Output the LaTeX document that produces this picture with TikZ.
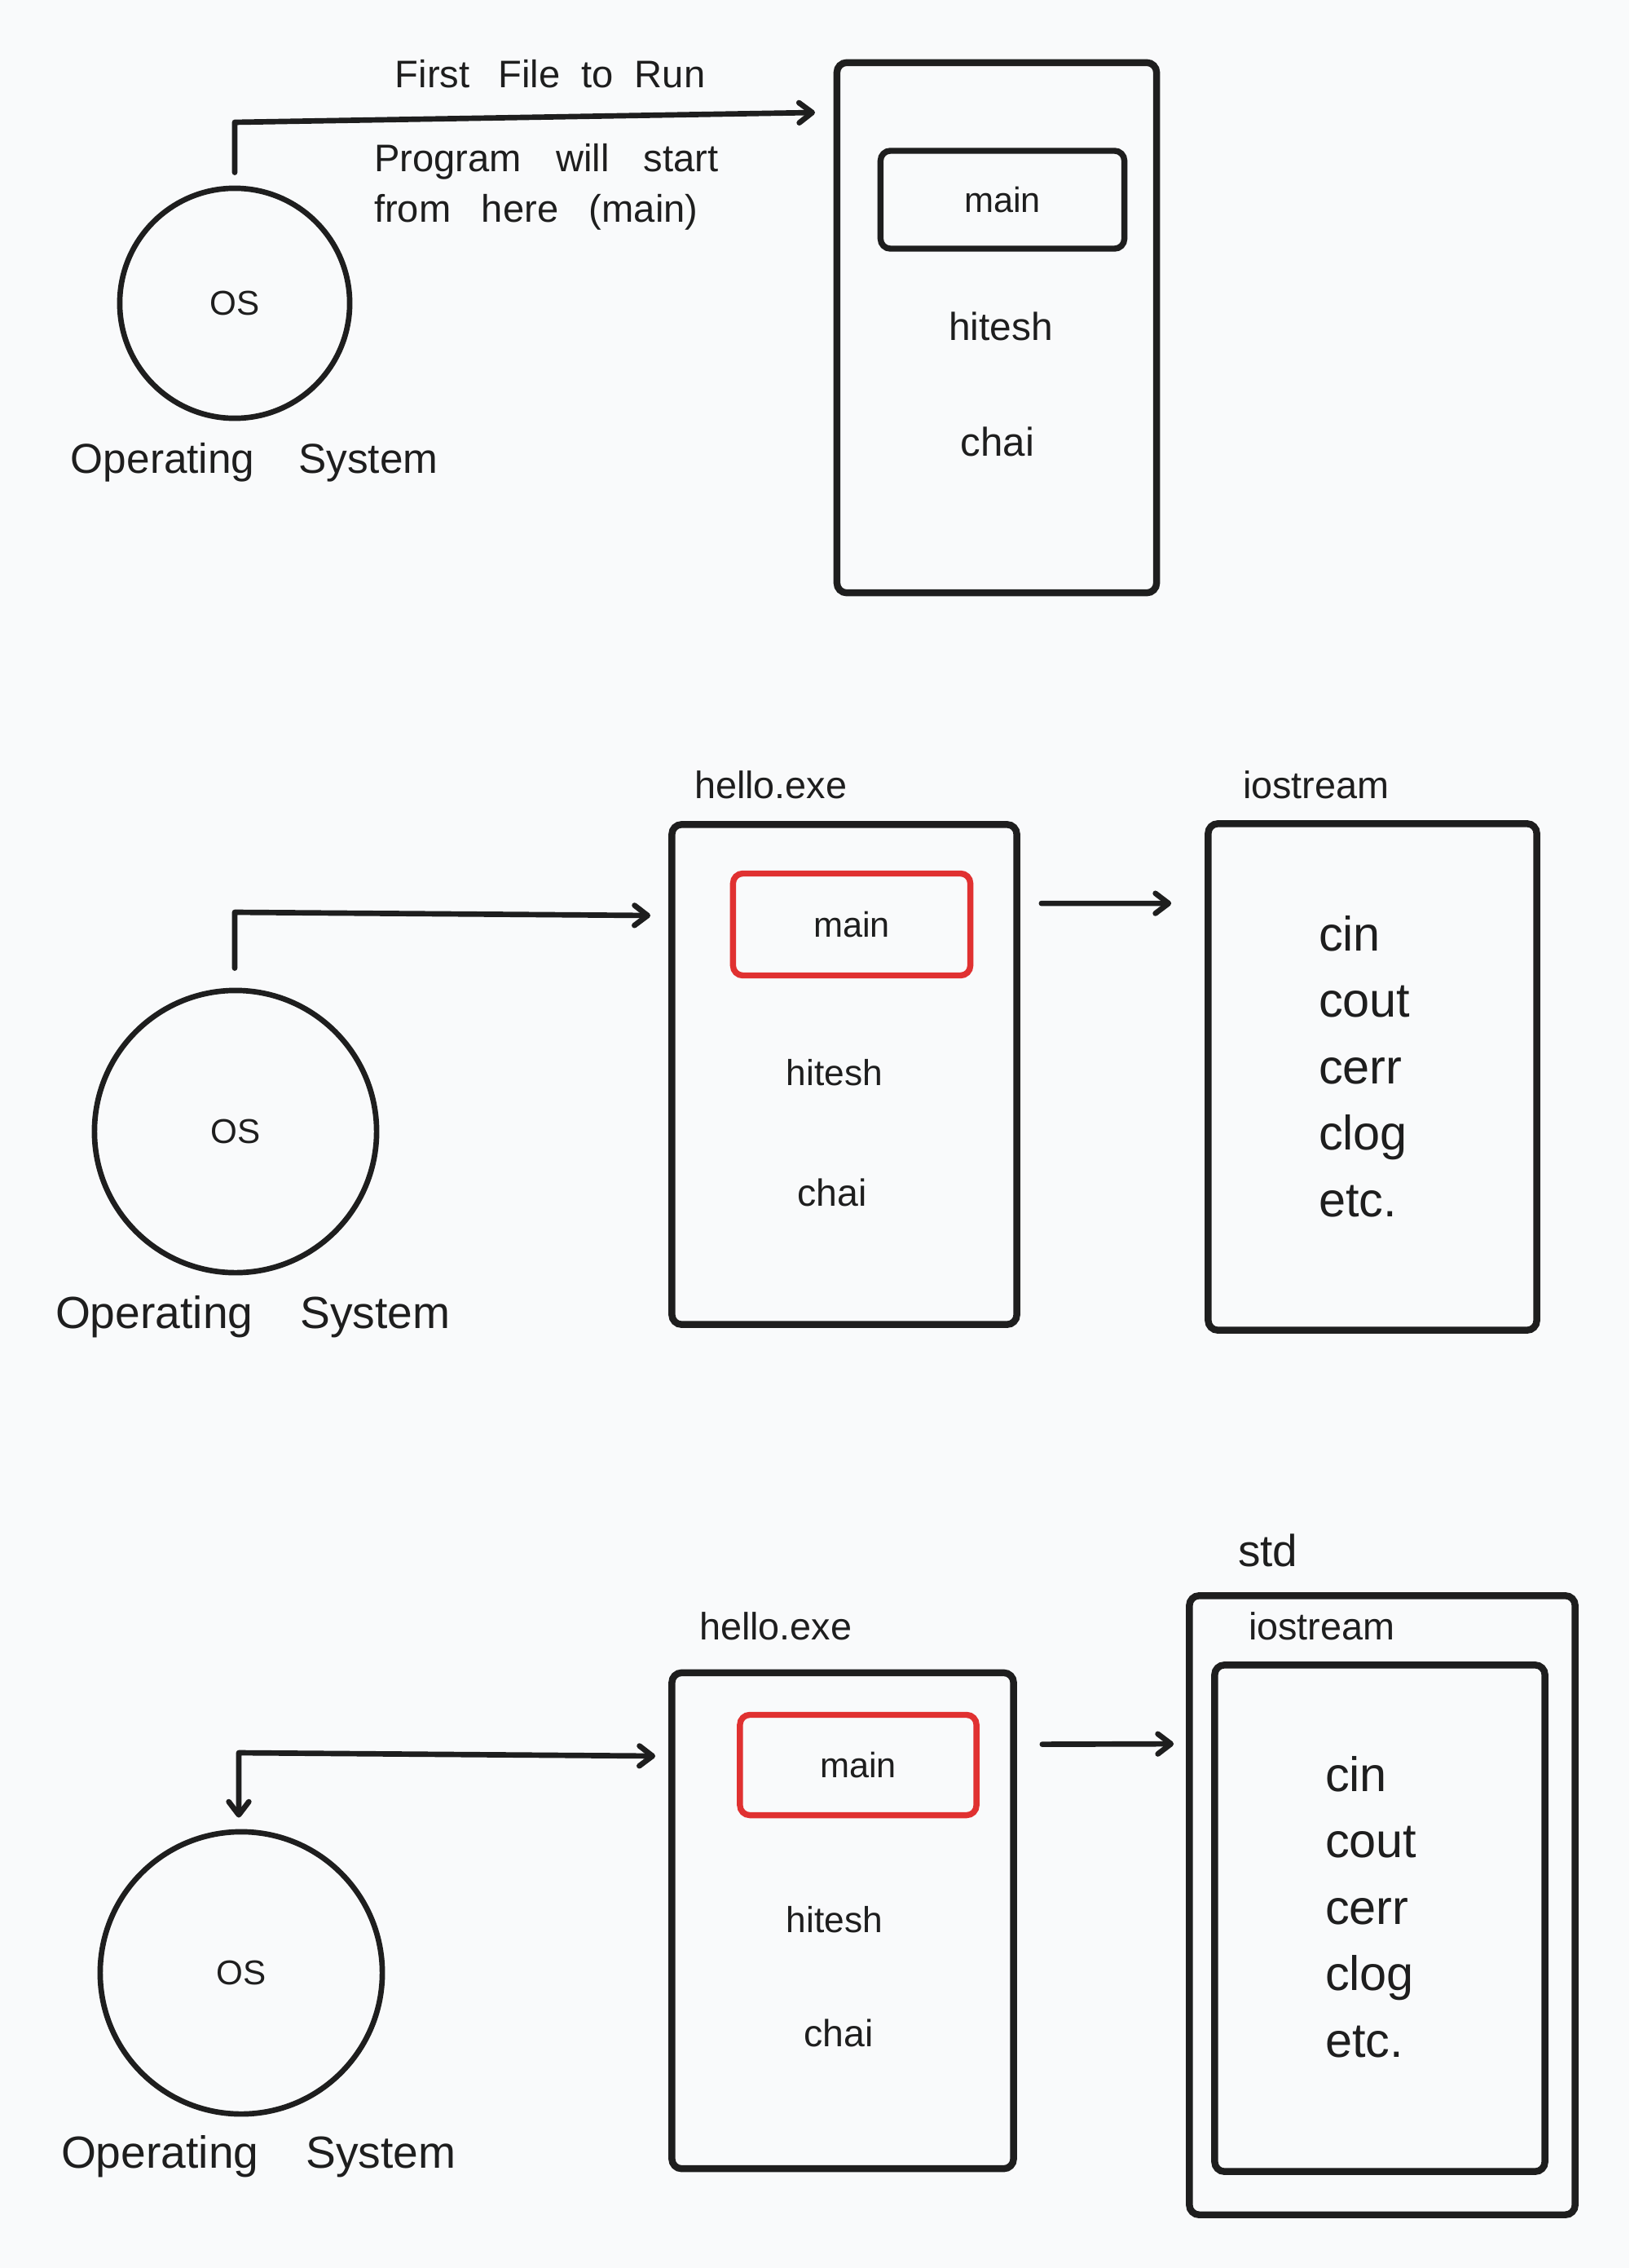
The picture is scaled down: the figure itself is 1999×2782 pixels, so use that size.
\documentclass[tikz,border=0pt]{standalone}
\usepackage{fontspec}
\setmainfont{Liberation Sans}
\usetikzlibrary{arrows.meta,calc}
\definecolor{ink}{RGB}{30,30,30}
\definecolor{redc}{RGB}{224,49,49}
\definecolor{bgc}{RGB}{249,250,251}
\newcommand{\fsz}[1]{\fontsize{#1}{1.2\dimexpr #1\relax}\selectfont}
\tikzset{
  bigbox/.style={draw=ink, line width=2.4pt, rounded corners=0.12cm, inner sep=0pt, rectangle},
  mainbox/.style={draw=ink, line width=2.1pt, rounded corners=0.12cm, inner sep=0pt, rectangle, text=ink, font=\fsz{12.3pt}},
  redbox/.style={draw=redc, line width=2.1pt, rounded corners=0.12cm, inner sep=0pt, rectangle, text=ink, font=\fsz{12.3pt}},
  oscirc/.style={draw=ink, line width=1.9pt, circle, inner sep=0pt, text=ink, font=\fsz{12pt}},
  txt/.style={inner sep=0pt, outer sep=0pt, text=ink},
  tipb/.tip={Straight Barb[length=4.6pt,width=7pt,line cap=round,line join=round]},
  arr/.style={draw=ink, line width=1.9pt, line cap=round, line join=round, -tipb},
  arrtwo/.style={draw=ink, line width=1.9pt, line cap=round, line join=round, tipb-tipb},
}
\begin{document}
\begin{tikzpicture}[x=0.01cm,y=-0.01cm]
\fill[bgc] (0,0) rectangle (1999,2782);
\useasboundingbox (0,0) rectangle (1999,2782);

% ---------------- Section 1 ----------------
\node[oscirc, minimum size=2.82cm] (c1) at (288,372) {OS};
\node[txt, anchor=base west, font=\fsz{14.6pt}] (op1) at (87,580) {Operating\hspace{1.05em}System};
\node[bigbox, minimum width=3.92cm, minimum height=6.50cm] (box1) at (1223,402) {};
\node[mainbox, minimum width=2.99cm, minimum height=1.20cm] (main1) at (1230,245) {main};
\node[txt, anchor=base, font=\fsz{13.6pt}] (hit1) at (1228,418) {hitesh};
\node[txt, anchor=base, font=\fsz{14pt}] (chai1) at (1224,559) {chai};
\node[txt, anchor=base, font=\fsz{13.4pt}] (lab1) at (675,108) {First\hspace{0.75em}File\hspace{0.55em}to\hspace{0.55em}Run};
\node[txt, anchor=base west, font=\fsz{13.4pt}] (lab2) at (459,211) {Program\hspace{0.9em}will\hspace{0.9em}start};
\node[txt, anchor=base west, font=\fsz{13.4pt}] (lab3) at (459,273) {from\hspace{0.8em}here\hspace{0.8em}(main)};
\coordinate (k1) at (288,150);
\coordinate (t1) at (1000,138);
\draw[arr] ($(c1.north)+(0,-16)$) -- (k1) -- (t1);

% ---------------- Section 2 ----------------
\node[oscirc, minimum size=3.46cm] (c2) at (289,1388) {OS};
\node[txt, anchor=base west, font=\fsz{15.7pt}] (op2) at (68,1629) {Operating\hspace{1.05em}System};
\node[txt, anchor=base west, font=\fsz{13.3pt}] (exe2) at (852,979) {hello.exe};
\node[bigbox, minimum width=4.23cm, minimum height=6.13cm] (box2) at (1036,1318) {};
\node[redbox, minimum width=2.91cm, minimum height=1.25cm] (main2) at (1045,1134) {main};
\node[txt, anchor=base, font=\fsz{12.6pt}] (hit2) at (1024,1331) {hitesh};
\node[txt, anchor=base, font=\fsz{13.2pt}] (chai2) at (1021,1479) {chai};
\node[txt, anchor=base west, font=\fsz{13.3pt}] (ios2) at (1525,979) {iostream};
\node[bigbox, minimum width=4.03cm, minimum height=6.21cm] (io2) at (1684,1321) {};
\foreach \w [count=\i] in {cin,cout,cerr,clog,etc.}
  \node[txt, anchor=base west, font=\fsz{16.9pt}] (ltwo\i) at ({1618},{1166+81.5*(\i-1)}) {\w};
\coordinate (k2) at (288,1119);
\coordinate (t2) at (798,1123);
\draw[arr] ($(c2.north)+(-1,-24)$) -- (k2) -- (t2);
\draw[arr] ($(box2.north east)+(26,101)$) -- ($(io2.north west)+(-41,102)$);

% ---------------- Section 3 ----------------
\node[oscirc, minimum size=3.46cm] (c3) at (296,2420) {OS};
\node[txt, anchor=base west, font=\fsz{15.7pt}] (op3) at (75,2659) {Operating\hspace{1.05em}System};
\node[txt, anchor=base west, font=\fsz{13.3pt}] (exe3) at (858,2011) {hello.exe};
\node[bigbox, minimum width=4.19cm, minimum height=6.08cm] (box3) at (1034,2356) {};
\node[redbox, minimum width=2.90cm, minimum height=1.23cm] (main3) at (1053,2165) {main};
\node[txt, anchor=base, font=\fsz{12.6pt}] (hit3) at (1024,2370) {hitesh};
\node[txt, anchor=base, font=\fsz{13.2pt}] (chai3) at (1029,2510) {chai};
\node[txt, anchor=base west, font=\fsz{15.6pt}] (std3) at (1519,1921) {std};
\node[bigbox, minimum width=4.73cm, minimum height=7.59cm] (stdbox) at (1696,2337) {};
\node[txt, anchor=base west, font=\fsz{13.3pt}] (ios3) at (1532,2011) {iostream};
\node[bigbox, minimum width=4.05cm, minimum height=6.21cm] (io3) at (1693,2353) {};
\foreach \w [count=\i] in {cin,cout,cerr,clog,etc.}
  \node[txt, anchor=base west, font=\fsz{16.9pt}] (lthree\i) at ({1626},{2197+81.5*(\i-1)}) {\w};
\coordinate (k3) at (293,2150);
\coordinate (t3) at (804,2154);
\draw[arrtwo] ($(c3.north)+(-3,-14)$) -- (k3) -- (t3);
\draw[arr] ($(box3.north east)+(31,92)$) -- ($(stdbox.north west)+(-15,186)$);
\end{tikzpicture}
\end{document}
